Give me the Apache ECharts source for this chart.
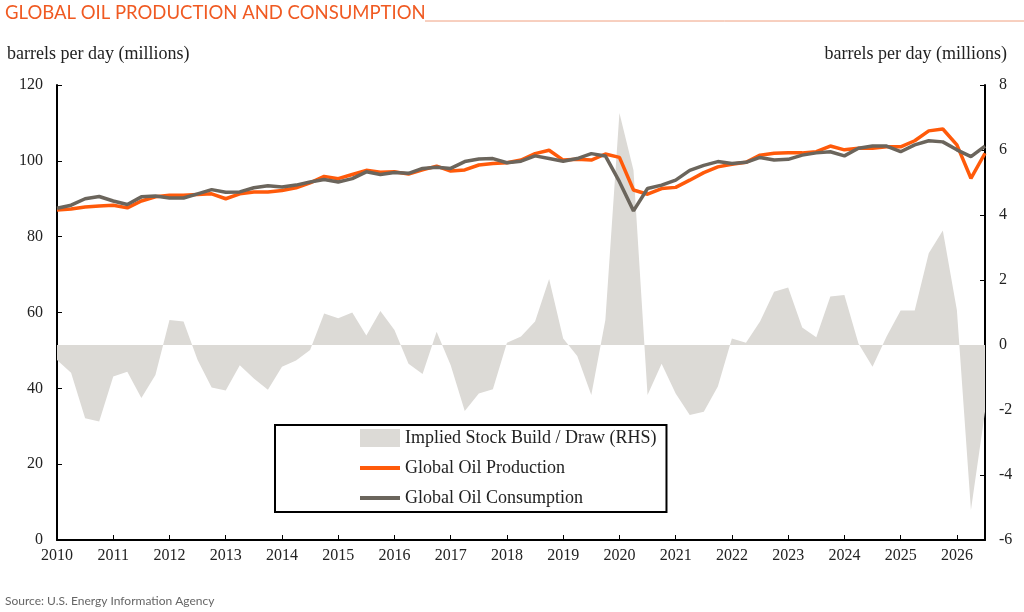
<!DOCTYPE html>
<html>
<head>
<meta charset="utf-8">
<script src="https://cdn.jsdelivr.net/npm/echarts@6/dist/echarts.min.js"></script>
<style>
html,body{margin:0;padding:0;background:#fff;}
#main{width:1024px;height:612px;}
</style>
</head>
<body>
<div id="main"></div>
<script>
// quarterly points, 2010 Q1 onward
var years = ['2010','2011','2012','2013','2014','2015','2016','2017','2018','2019','2020','2021','2022','2023','2024','2025','2026'];
var production = [87.0,87.3,87.8,88.1,88.3,87.6,89.4,90.5,90.9,90.9,91.1,91.3,90.0,91.3,91.8,91.8,92.2,92.9,94.2,95.9,95.3,96.4,97.5,97.0,
	97.1,96.5,97.6,98.6,97.3,97.6,98.9,99.3,99.5,100.2,101.9,102.8,100.2,100.4,100.2,101.8,100.9,92.3,91.2,92.7,93.0,94.9,96.9,
	98.4,99.1,99.6,101.5,102.0,102.1,102.1,102.4,103.9,102.9,103.3,103.3,103.7,103.7,105.3,107.9,108.4,104.2,95.4,102.0];
var consumption = [87.5,88.3,90.0,90.6,89.4,88.5,90.5,90.7,90.2,90.2,91.3,92.4,91.7,91.8,92.9,93.4,93.1,93.6,94.4,95.1,94.4,95.3,97.1,96.4,
	96.9,96.7,98.0,98.3,98.0,99.8,100.5,100.6,99.5,99.9,101.3,100.6,99.9,100.6,101.9,101.3,94.5,86.8,92.7,93.6,94.9,97.5,98.8,
	99.8,99.3,99.6,100.9,100.2,100.4,101.5,102.1,102.4,101.3,103.3,103.9,103.9,102.4,104.2,105.3,105.0,102.9,101.1,103.9];
var stockBuild = [-0.46,-0.85,-2.25,-2.35,-0.97,-0.82,-1.63,-0.92,0.77,0.72,-0.46,-1.31,-1.4,-0.62,-1.03,-1.38,-0.67,-0.48,-0.15,0.97,0.82,1.0,0.29,1.05,
	0.46,-0.58,-0.89,0.41,-0.62,-2.03,-1.49,-1.36,0.07,0.26,0.72,2.03,0.2,-0.34,-1.54,0.77,7.14,5.38,-1.54,-0.58,-1.49,-2.15,-2.05,
	-1.28,0.2,0.07,0.72,1.64,1.77,0.54,0.24,1.49,1.54,0.05,-0.67,0.26,1.06,1.06,2.82,3.52,1.08,-5.08,-2.05];

var cats = [];
for (var i = 0; i < production.length; i++) cats.push(i);

var serif = 'Liberation Serif';
var axisLine = {show:true,lineStyle:{color:'#000',width:2}};
var lineIcon = 'path://M0,0 L40,0 L40,4 L0,4 Z';

var myChart = echarts.init(document.getElementById('main'));
myChart.setOption({
	animation:false,
	backgroundColor:'#fff',
	title:[
		{text:'GLOBAL OIL PRODUCTION AND CONSUMPTION',left:0,top:-1,textStyle:{fontFamily:'Lato',fontSize:18.5,fontWeight:'normal',color:'#f05a22'}},
		{text:'Source: U.S. Energy Information Agency',left:0,top:590,textStyle:{fontFamily:'Lato',fontSize:12,fontWeight:'normal',color:'#666'}}
	],
	graphic:[{type:'line',shape:{x1:425,y1:21,x2:1024,y2:21},style:{stroke:'#f0a080',lineWidth:1}}],
	grid:{left:57,right:39,top:85,bottom:72},
	legend:{
		orient:'vertical',left:275,top:425,width:300,height:95,
		padding:[4,10,5,85],itemGap:12,itemWidth:40,itemHeight:18,
		borderColor:'#000',borderWidth:2,
		textStyle:{fontFamily:serif,fontSize:18,color:'#222'},
		data:[
			{name:'Implied Stock Build / Draw (RHS)',icon:'rect',itemStyle:{color:'#dcdad6'}},
			{name:'Global Oil Production',icon:lineIcon,itemHeight:4},
			{name:'Global Oil Consumption',icon:lineIcon,itemHeight:4}
		]
	},
	xAxis:{
		type:'category',data:cats,boundaryGap:false,
		axisLine:axisLine,
		axisTick:{show:true,inside:true,interval:3,lineStyle:{color:'#000'}},
		axisLabel:{interval:3,fontFamily:serif,fontSize:16,color:'#222',formatter:function(v){return years[v/4];}}
	},
	yAxis:[
		{type:'value',min:0,max:120,interval:20,
			name:'barrels per day (millions)',nameLocation:'end',nameGap:22,
			nameTextStyle:{fontFamily:serif,fontSize:18,color:'#222',align:'left',padding:[0,0,0,-50]},
			axisLine:axisLine,axisTick:{show:true,inside:true,lineStyle:{color:'#000'}},
			axisLabel:{fontFamily:serif,fontSize:16,color:'#222',margin:14},splitLine:{show:false}},
		{type:'value',min:-6,max:8,interval:2,
			name:'barrels per day (millions)',nameLocation:'end',nameGap:22,
			nameTextStyle:{fontFamily:serif,fontSize:18,color:'#222',align:'right',padding:[0,-22,0,0]},
			axisLine:axisLine,axisTick:{show:true,inside:true,lineStyle:{color:'#000'}},
			axisLabel:{fontFamily:serif,fontSize:16,color:'#222',margin:14},splitLine:{show:false}}
	],
	series:[
		{name:'Implied Stock Build / Draw (RHS)',type:'line',yAxisIndex:1,data:stockBuild,
			symbol:'none',lineStyle:{width:0},itemStyle:{color:'#dcdad6'},areaStyle:{color:'#dcdad6',opacity:1},z:1},
		{name:'Global Oil Production',type:'line',data:production,symbol:'none',
			lineStyle:{color:'#ff5a0a',width:3.5},itemStyle:{color:'#ff5a0a'},z:2},
		{name:'Global Oil Consumption',type:'line',data:consumption,symbol:'none',
			lineStyle:{color:'#6b655c',width:3.5},itemStyle:{color:'#6b655c'},z:3}
	]
});
</script>
</body>
</html>
